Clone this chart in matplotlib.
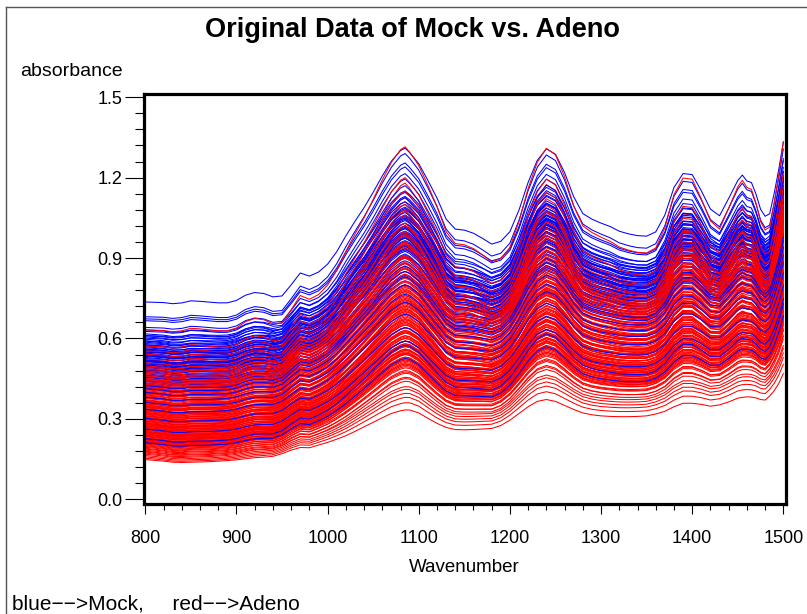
import numpy as np
import matplotlib
matplotlib.use("Agg")
import matplotlib.pyplot as plt
from matplotlib.lines import Line2D
from matplotlib.ticker import MultipleLocator, FormatStrFormatter

plt.rcParams['font.family'] = ['Liberation Sans', 'DejaVu Sans']

# ---------------- data ----------------
wavenumber = [800, 810, 820, 830, 840, 850, 860, 870, 880, 890,
              900, 910, 920, 930, 940, 950, 960, 970, 980, 990,
              1000, 1010, 1020, 1030, 1040, 1050, 1060, 1070, 1080, 1085,
              1090, 1100, 1110, 1120, 1130, 1140, 1150, 1160, 1170, 1180,
              1190, 1200, 1210, 1220, 1230, 1240, 1250, 1260, 1270, 1280,
              1290, 1300, 1310, 1320, 1330, 1340, 1350, 1360, 1370, 1380,
              1390, 1400, 1410, 1420, 1430, 1440, 1450, 1455, 1460, 1465,
              1470, 1475, 1480, 1485, 1490, 1495, 1500]

# highest spectrum (Mock) as traced
spectrum_high = [0.736, 0.735, 0.734, 0.730, 0.733, 0.741, 0.739, 0.736, 0.733, 0.733,
                 0.742, 0.762, 0.772, 0.768, 0.755, 0.758, 0.800, 0.845, 0.833, 0.848,
                 0.878, 0.925, 0.985, 1.040, 1.092, 1.150, 1.212, 1.268, 1.308, 1.317,
                 1.300, 1.258, 1.195, 1.128, 1.048, 1.010, 1.006, 0.994, 0.974, 0.952,
                 0.962, 0.998, 1.080, 1.185, 1.268, 1.312, 1.292, 1.222, 1.130, 1.066,
                 1.045, 1.030, 1.017, 0.999, 0.989, 0.982, 0.980, 0.996, 1.060, 1.165,
                 1.218, 1.214, 1.152, 1.082, 1.056, 1.122, 1.190, 1.211, 1.188, 1.182,
                 1.138, 1.080, 1.053, 1.062, 1.140, 1.230, 1.333]

# lowest spectrum (Adeno) as traced
spectrum_low = [0.148, 0.145, 0.142, 0.138, 0.137, 0.138, 0.139, 0.140, 0.142, 0.144,
                0.147, 0.151, 0.155, 0.157, 0.160, 0.170, 0.183, 0.193, 0.192, 0.202,
                0.212, 0.224, 0.237, 0.253, 0.270, 0.287, 0.304, 0.320, 0.330, 0.333,
                0.333, 0.322, 0.302, 0.283, 0.268, 0.260, 0.259, 0.260, 0.262, 0.264,
                0.275, 0.295, 0.320, 0.345, 0.365, 0.372, 0.365, 0.350, 0.335, 0.322,
                0.315, 0.311, 0.309, 0.308, 0.308, 0.309, 0.311, 0.318, 0.328, 0.345,
                0.358, 0.358, 0.354, 0.347, 0.352, 0.363, 0.377, 0.380, 0.382, 0.381,
                0.378, 0.372, 0.370, 0.385, 0.405, 0.432, 0.469]

# absorbance of each Mock spectrum at 800 and at the 1085 peak
mock_start = [0.736, 0.681, 0.673, 0.666, 0.641, 0.632, 0.626, 0.617, 0.611, 0.606,
              0.601, 0.597, 0.591, 0.586, 0.581, 0.577, 0.572, 0.569, 0.565, 0.561,
              0.557, 0.553, 0.549, 0.545, 0.541, 0.537, 0.533, 0.529, 0.525, 0.521,
              0.517, 0.513, 0.509, 0.505, 0.501, 0.496, 0.491, 0.487, 0.482, 0.477,
              0.472, 0.468, 0.463, 0.458, 0.454, 0.449, 0.444, 0.439, 0.434, 0.429,
              0.560, 0.540, 0.520, 0.500, 0.480, 0.610, 0.590, 0.575, 0.555, 0.535,
              0.515, 0.495,
              0.424, 0.413, 0.399, 0.381, 0.361, 0.336, 0.302, 0.262, 0.226, 0.211]
mock_peak = [1.310, 1.290, 1.255, 1.240, 1.215, 1.150, 1.195, 1.110, 1.170, 1.080,
             1.145, 1.060, 1.125, 1.030, 1.100, 1.050, 1.085, 0.990, 1.070, 1.020,
             1.040, 0.975, 1.055, 1.000, 1.030, 0.960, 1.020, 0.985, 1.045, 0.950,
             0.990, 1.010, 0.930, 0.975, 0.995, 0.910, 0.960, 0.925, 0.945, 0.880,
             0.935, 0.890, 0.915, 0.860, 0.900, 0.850, 0.880, 0.835, 0.870, 0.815,
             1.060, 0.965, 1.000, 0.905, 0.950, 1.130, 1.010, 1.090, 0.980, 1.015,
             0.935, 0.975,
             0.850, 0.830, 0.800, 0.765, 0.735, 0.690, 0.640, 0.590, 0.575, 0.525]

# absorbance of each Adeno spectrum at 800 and at the 1085 peak
adeno_start = [0.632, 0.571, 0.553, 0.541, 0.522, 0.509, 0.497, 0.491, 0.486, 0.479,
               0.474, 0.471, 0.465, 0.460, 0.457, 0.451, 0.447, 0.444, 0.439, 0.433,
               0.430, 0.428, 0.423, 0.419, 0.416, 0.411, 0.408, 0.405, 0.399, 0.397,
               0.392, 0.389, 0.386, 0.381, 0.378, 0.376, 0.371, 0.367, 0.365, 0.361,
               0.357, 0.355, 0.350, 0.347, 0.344, 0.341, 0.338, 0.333, 0.331, 0.327,
               0.324, 0.322, 0.318, 0.315, 0.311, 0.309, 0.305, 0.302, 0.300, 0.296,
               0.293, 0.290, 0.287, 0.284, 0.281, 0.278, 0.274, 0.272, 0.269, 0.266,
               0.263, 0.259, 0.257, 0.254, 0.251, 0.248, 0.244, 0.242, 0.239, 0.236,
               0.233, 0.230, 0.227, 0.224, 0.221, 0.218, 0.215, 0.212, 0.209, 0.206,
               0.203, 0.200, 0.197, 0.194, 0.190, 0.187, 0.183, 0.179, 0.176, 0.172,
               0.168, 0.163, 0.158, 0.153, 0.148,
               0.415, 0.402, 0.383, 0.369, 0.352, 0.336, 0.320, 0.306, 0.291, 0.276,
               0.262, 0.249, 0.235, 0.222, 0.210, 0.426, 0.395, 0.362, 0.329, 0.298,
               0.283, 0.268, 0.253, 0.240, 0.228, 0.345, 0.312, 0.280, 0.247, 0.216,
               0.548, 0.515, 0.482, 0.462, 0.440, 0.420, 0.505, 0.455]
adeno_peak = [1.315, 1.200, 1.150, 1.060, 1.100, 1.020, 0.990, 1.080, 0.960, 1.030,
              0.950, 1.000, 0.955, 0.910, 0.985, 0.900, 0.960, 0.880, 0.905, 0.940,
              0.885, 0.830, 0.905, 0.850, 0.865, 0.800, 0.880, 0.825, 0.840, 0.780,
              0.860, 0.800, 0.815, 0.760, 0.830, 0.775, 0.795, 0.740, 0.760, 0.800,
              0.750, 0.785, 0.720, 0.755, 0.730, 0.770, 0.700, 0.735, 0.710, 0.745,
              0.700, 0.735, 0.670, 0.705, 0.680, 0.715, 0.650, 0.685, 0.660, 0.695,
              0.640, 0.675, 0.630, 0.655, 0.620, 0.660, 0.605, 0.640, 0.600, 0.630,
              0.590, 0.625, 0.575, 0.610, 0.570, 0.600, 0.555, 0.590, 0.545, 0.580,
              0.540, 0.570, 0.525, 0.560, 0.515, 0.550, 0.505, 0.540, 0.495, 0.530,
              0.490, 0.520, 0.475, 0.505, 0.470, 0.480, 0.450, 0.455, 0.420, 0.440,
              0.410, 0.395, 0.380, 0.360, 0.333,
              0.840, 0.790, 0.775, 0.735, 0.720, 0.690, 0.670, 0.640, 0.625, 0.590,
              0.580, 0.560, 0.545, 0.520, 0.500, 0.870, 0.810, 0.745, 0.710, 0.650,
              0.610, 0.590, 0.570, 0.545, 0.530, 0.725, 0.665, 0.620, 0.555, 0.510,
              1.125, 1.110, 1.050, 1.020, 0.990, 0.945, 1.180, 1.075]

x_ticks = [800, 900, 1000, 1100, 1200, 1300, 1400, 1500]
y_ticks = [0.0, 0.3, 0.6, 0.9, 1.2, 1.5]

# ---------------- build spectra from the traced shapes ----------------
wn = np.array(wavenumber, dtype=float)
hi = np.array(spectrum_high)
lo = np.array(spectrum_low)
ipk = wavenumber.index(1085)
amp_hi = hi[ipk] - hi[0]
amp_lo = lo[ipk] - lo[0]
shape_hi = (hi - hi[0]) / amp_hi
shape_lo = (lo - lo[0]) / amp_lo


def spectrum(start, peak):
    amp = peak - start
    w = np.clip((amp_hi - amp) / (amp_hi - amp_lo), 0.0, 1.0)
    return start + amp * ((1 - w) * shape_hi + w * shape_lo)


# ---------------- figure ----------------
W, H = 807, 614
fig = plt.figure(figsize=(W / 100, H / 100), dpi=100)
L, R, T, B = 143.5, 785.8, 94.3, 504.3
ax = fig.add_axes([L / W, 1 - B / H, (R - L) / W, (B - T) / H])

nb, nr = len(mock_start), len(adeno_start)
# Mock spectra spread evenly through the Adeno drawing order
step = nr / nb
bi = 0
for j in range(nr - 1, -1, -1):
    k = nr - 1 - j
    while bi < nb and bi * step <= k:
        ax.plot(wn, spectrum(mock_start[bi], mock_peak[bi]), color='#0000ff', lw=0.75)
        bi += 1
    ax.plot(wn, spectrum(adeno_start[j], adeno_peak[j]), color='#ff0000', lw=0.75)
while bi < nb:
    ax.plot(wn, spectrum(mock_start[bi], mock_peak[bi]), color='#0000ff', lw=0.75)
    bi += 1

ax.set_xlim(798, 1502.7)
ax.set_ylim(-0.019, 1.511)
for s in ax.spines.values():
    s.set_linewidth(2.3)
    s.set_color('black')

ax.set_xticks(x_ticks)
ax.set_yticks(y_ticks)
ax.xaxis.set_minor_locator(MultipleLocator(20))
ax.yaxis.set_minor_locator(MultipleLocator(0.06))
ax.yaxis.set_major_formatter(FormatStrFormatter('%.1f'))
ax.tick_params(axis='y', which='major', length=13.5, width=0.8, pad=1.5, labelsize=13)
ax.tick_params(axis='y', which='minor', length=6.5, width=0.8)
ax.tick_params(axis='x', which='major', length=7.5, width=0.8, pad=11, labelsize=13)
ax.tick_params(axis='x', which='minor', length=4, width=0.8)

ax.set_xlabel('Wavenumber', fontsize=13.5, labelpad=9)

fig.text(412 / W, 1 - 30 / H, 'Original Data of Mock vs. Adeno',
         ha='center', va='center', fontsize=19.5, fontweight='bold')
fig.text(20 / W, 1 - 71 / H, 'absorbance', ha='left', va='center', fontsize=14)
fig.text(12 / W, 1 - 604 / H, 'blue\u2212\u2212>Mock,     red\u2212\u2212>Adeno',
         ha='left', va='center', fontsize=15)

fig.add_artist(Line2D([6 / W, 6 / W], [0, 1 - 7 / H], color='#555555', lw=1))
fig.add_artist(Line2D([6 / W, 1], [1 - 7 / H, 1 - 7 / H], color='#555555', lw=1))

fig.savefig('out.png', dpi=100)
